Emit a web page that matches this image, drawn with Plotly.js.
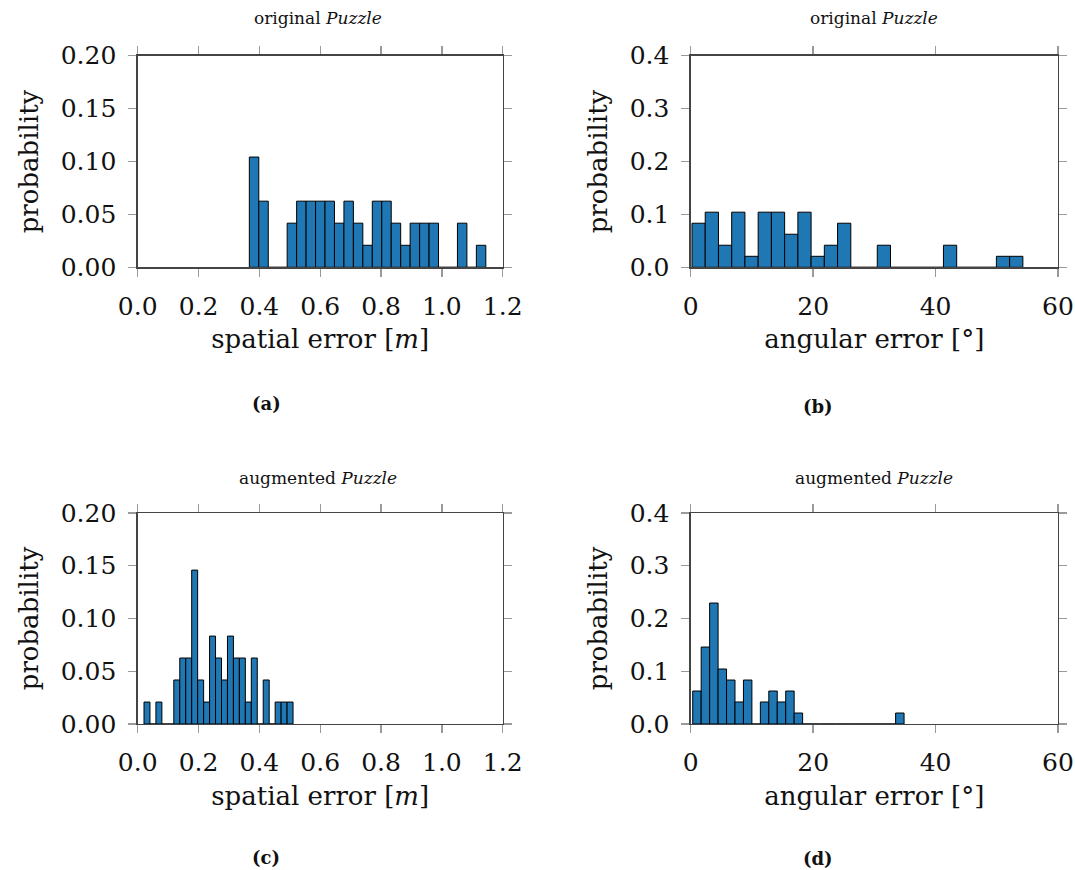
<!DOCTYPE html>
<html><head><meta charset="utf-8">
<script src="https://cdn.plot.ly/plotly-3.0.1.min.js"></script>
<style>html,body{margin:0;padding:0;background:#fff}</style>
</head><body><div id="chart" style="width:1075px;height:870px"></div>
<script>
// Histogram probabilities (25 bins each)
const probA = [0.1042,0.0625,0,0,0.0417,0.0625,0.0625,0.0625,0.0625,0.0417,0.0625,0.0417,0.0208,0.0625,0.0625,0.0417,0.0208,0.0417,0.0417,0.0417,0,0,0.0417,0,0.0208];
const probB = [0.0833,0.1042,0.0417,0.1042,0.0208,0.1042,0.1042,0.0625,0.1042,0.0208,0.0417,0.0833,0,0,0.0417,0,0,0,0,0.0417,0,0,0,0.0208,0.0208];
const probC = [0.0208,0,0.0208,0,0,0.0417,0.0625,0.0625,0.1458,0.0417,0.0208,0.0833,0.0625,0.0417,0.0833,0.0625,0.0625,0.0208,0.0625,0,0.0417,0,0.0208,0.0208,0.0208];
const probD = [0.0625,0.1458,0.2292,0.1042,0.0833,0.0417,0.0833,0,0.0417,0.0625,0.0417,0.0625,0.0208,0,0,0,0,0,0,0,0,0,0,0,0.0208];
// Bin start (left edge of first bin) and bin width
const binStart = {a: 0.367, b: 0.21, c: 0.0207, d: 0.33};
const binWidth = {a: 0.0311, b: 2.162, c: 0.0196, d: 1.381};
// Text
const titles = ["original <i>Puzzle</i>", "original <i>Puzzle</i>", "augmented <i>Puzzle</i>", "augmented <i>Puzzle</i>"];
const captions = ["(a)", "(b)", "(c)", "(d)"];
const xTitles = ["spatial error [<i>m</i>]", "angular error [°]"];
const yTitle = "probability";
const spatialTicks = [0, 0.2, 0.4, 0.6, 0.8, 1.0, 1.2];
const angularTicks = [0, 20, 40, 60];
const probTicksSmall = [0, 0.05, 0.10, 0.15, 0.20];
const probTicksLarge = [0, 0.1, 0.2, 0.3, 0.4];

const FONT = "DejaVu Serif";
const W = 1075, H = 870;
const px = v => v / W, py = v => 1 - v / H;

function barTrace(vals, key, xa, ya) {
  return {
    type: 'bar', y: vals, x0: binStart[key] + binWidth[key] / 2, dx: binWidth[key], width: binWidth[key],
    xaxis: xa, yaxis: ya,
    marker: {color: '#1f77b4', line: {color: '#000', width: 1}},
    hoverinfo: 'skip', showlegend: false
  };
}

const data = [
  barTrace(probA, 'a', 'x', 'y'),
  barTrace(probB, 'b', 'x2', 'y2'),
  barTrace(probC, 'c', 'x3', 'y3'),
  barTrace(probD, 'd', 'x4', 'y4')
];

const base = {
  showline: true, linecolor: '#444', linewidth: 1.3, mirror: 'ticks',
  ticks: 'outside', ticklen: 8, tickcolor: '#9a9a9a', tickwidth: 1.3,
  showgrid: false, zeroline: false, fixedrange: true,
  tickfont: {family: FONT, size: 25, color: '#111'}
};
function xax(domain, anchor, range, tickvals, fmt, title) {
  return Object.assign({}, base, {
    domain, anchor, range, tickmode: 'array', tickvals,
    ticktext: tickvals.map(v => fmt(v)), ticklabelstandoff: 8,
    title: {text: title, font: {family: FONT, size: 26, color: '#111'}, standoff: 10}
  });
}
function yax(domain, anchor, range, tickvals, fmt) {
  return Object.assign({}, base, {
    domain, anchor, range, tickmode: 'array', tickvals,
    ticktext: tickvals.map(v => fmt(v)), ticklabelstandoff: 7,
    title: {text: yTitle, font: {family: FONT, size: 26, color: '#111'}, standoff: 14}
  });
}
const f1 = v => v.toFixed(1), f2 = v => v.toFixed(2), f0 = v => v.toFixed(0);

const xL = [px(137.7), px(502.7)], xR = [px(690.7), px(1058)];
const yT = [py(267.3), py(55.7)], yB = [py(724), py(512.9)];

const layout = {
  width: W, height: H, margin: {l: 0, r: 0, t: 0, b: 0},
  paper_bgcolor: '#fff', plot_bgcolor: '#fff', bargap: 0,
  font: {family: FONT, color: '#111'},
  xaxis: xax(xL, 'y', [0, 1.2], spatialTicks, f1, xTitles[0]),
  yaxis: yax(yT, 'x', [0, 0.2], probTicksSmall, f2),
  xaxis2: xax(xR, 'y2', [0, 60], angularTicks, f0, xTitles[1]),
  yaxis2: yax(yT, 'x2', [0, 0.4], probTicksLarge, f1),
  xaxis3: xax(xL, 'y3', [0, 1.2], spatialTicks, f1, xTitles[0]),
  yaxis3: yax(yB, 'x3', [0, 0.2], probTicksSmall, f2),
  xaxis4: xax(xR, 'y4', [0, 60], angularTicks, f0, xTitles[1]),
  yaxis4: yax(yB, 'x4', [0, 0.4], probTicksLarge, f1),
  annotations: []
};
const titlePos = [[318, 18], [874, 18], [318, 478], [874, 478]];
titles.forEach((t, i) => layout.annotations.push({
  text: t, xref: 'paper', yref: 'paper', x: px(titlePos[i][0]), y: py(titlePos[i][1]),
  xanchor: 'center', yanchor: 'middle', showarrow: false,
  font: {family: FONT, size: 17, color: '#111'}
}));
const capPos = [[266, 404], [818, 406], [266, 857], [818, 858]];
captions.forEach((t, i) => layout.annotations.push({
  text: '<b>' + t + '</b>', xref: 'paper', yref: 'paper', x: px(capPos[i][0]), y: py(capPos[i][1]),
  xanchor: 'center', yanchor: 'middle', showarrow: false,
  font: {family: FONT, size: 18, color: '#111'}
}));

Plotly.newPlot('chart', data, layout, {staticPlot: true, displayModeBar: false});
</script></body></html>
